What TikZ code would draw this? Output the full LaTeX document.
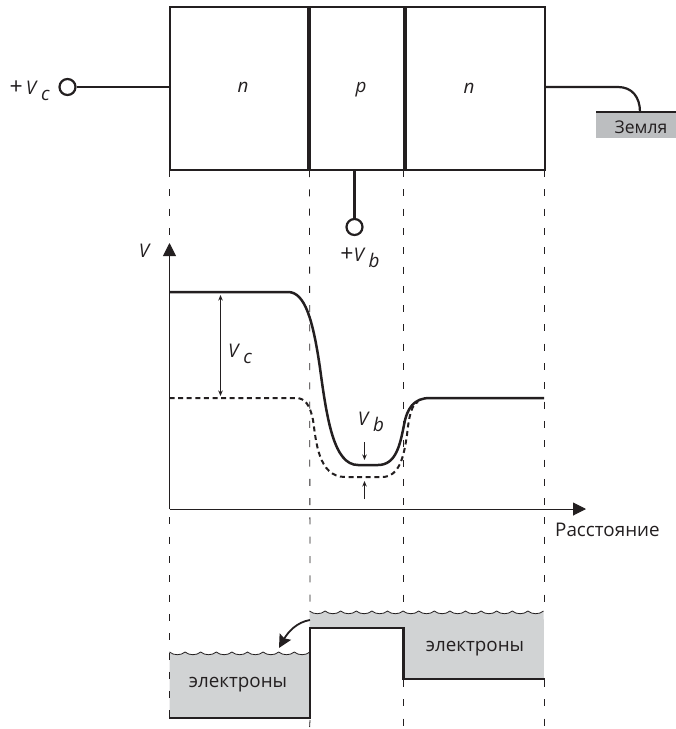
\documentclass[tikz,border=0pt]{standalone}
\usepackage{fontspec}
\setmainfont{Open Sans}
\usetikzlibrary{arrows.meta}
\definecolor{ink}{HTML}{231F20}
\definecolor{fillgrey}{HTML}{D1D3D4}
\definecolor{groundgrey}{HTML}{BCBEC0}
\newcommand{\Vsub}[1]{\textit{V}\,\raisebox{-6pt}{\textit{#1}}}
\newcommand{\Plus}{{\fontsize{23}{23}\selectfont +}}
\tikzset{
  lbl/.style={inner sep=0pt,text=ink,font=\fontsize{18.8}{22}\selectfont},
  wire/.style={draw=ink,line width=2.2pt},
  divider/.style={draw=ink,line width=3.2pt},
  guide/.style={draw=ink,line width=0.8pt,dash pattern=on 7pt off 12.3pt},
  terminal/.style={circle,draw=ink,line width=2.2pt,fill=white,minimum size=16pt,inner sep=0pt},
  regionbox/.style={draw=ink,line width=2.2pt,minimum height=163pt,inner sep=0pt,anchor=north west},
  axisline/.style={draw=ink,line width=1pt,-{Triangle[length=13pt,width=13pt]}},
  thinarrow/.style={draw=ink,line width=0.8pt,-{Stealth[length=5.5pt,width=4.5pt]}},
  bothfine/.style={draw=ink,line width=0.8pt,{Stealth[length=5.5pt,width=4.5pt]}-{Stealth[length=5.5pt,width=4.5pt]}},
  curvesolid/.style={draw=ink,line width=2.5pt},
  curvedash/.style={draw=ink,line width=2pt,dash pattern=on 5pt off 3.6pt},
  level/.style={draw=ink,line width=2.4pt},
  wave/.style={draw=ink,line width=0.8pt}
}
\begin{document}
\begin{tikzpicture}[x=1pt,y=-1pt]
\useasboundingbox (0,0) rectangle (676,729);

% grey electron seas (right one under the guides)
\fill[fillgrey] (309.5,611)
  foreach \i [evaluate=\i as \a using 309.5+15.6*\i, evaluate=\i as \b using 309.5+15.6*(\i+1)] in {0,...,14}
    { .. controls (\a+4,614.6) and (\b-4,614.6) .. (\b,611) }
  -- (544,628) -- (309.5,628) -- cycle;
\fill[fillgrey] (403.5,628) rectangle (544,679);
\fill[fillgrey] (169.5,652)
  foreach \i [evaluate=\i as \a using 169.5+15.6*\i, evaluate=\i as \b using 169.5+15.6*(\i+1)] in {0,...,8}
    { .. controls (\a+4,655.6) and (\b-4,655.6) .. (\b,652) }
  -- (310,718) -- (169.5,718) -- cycle;

% vertical guides
\coordinate (g1t) at (169.5,170); \coordinate (g1b) at (169.5,729);
\coordinate (g2t) at (309.5,170); \coordinate (g2b) at (309.5,729);
\coordinate (g3t) at (403.5,170); \coordinate (g3b) at (403.5,729);
\coordinate (g4t) at (544,170);   \coordinate (g4b) at (544,729);
\draw[guide] (g1t) -- (g1b);
\draw[guide] (g2t) -- (310,609) (310,720) -- (g2b);
\draw[guide] (g3t) -- (403.5,609) (403.5,680) -- (g3b);
\draw[guide] (g4t) -- (544,608) (544,680) -- (g4b);

% wavy surfaces
\draw[wave] (309.5,611)
  foreach \i [evaluate=\i as \a using 309.5+15.6*\i, evaluate=\i as \b using 309.5+15.6*(\i+1)] in {0,...,14}
    { .. controls (\a+4,614.6) and (\b-4,614.6) .. (\b,611) };
\draw[wave] (169.5,652)
  foreach \i [evaluate=\i as \a using 169.5+15.6*\i, evaluate=\i as \b using 169.5+15.6*(\i+1)] in {0,...,8}
    { .. controls (\a+4,655.6) and (\b-4,655.6) .. (\b,652) };

% transistor
\node[regionbox,minimum width=140pt] (nl) at (169,6) {};
\node[regionbox,minimum width=94pt] (pm) at (309,6) {};
\node[regionbox,minimum width=141pt] (nr) at (403,6) {};
\draw[divider] (pm.north west) -- (pm.south west);
\draw[divider] (pm.north east) -- (pm.south east);
\node[lbl] (tn1) at (243,87) {\textit{n}};
\node[lbl] (tp) at (361,90) {\textit{p}};
\node[lbl] (tn2) at (469,88) {\textit{n}};

% terminals
\node[terminal] (vc) at (67.5,87) {};
\draw[wire] (vc.east) -- (vc.east -| nl.west);
\node[lbl,anchor=east] (vclbl) at (50,91) {\Plus\,\Vsub{c}};
\node[terminal] (vb) at (354.5,227) {};
\coordinate (vbtop) at (354.5,169);
\draw[wire] (vbtop) -- (vb.north);
\node[lbl] (vblbl) at (360,258) {\Plus\Vsub{b}};

% ground
\node[fill=groundgrey,minimum width=80pt,minimum height=26pt,inner sep=0pt,anchor=north west] (gnd) at (596,112) {};
\node[lbl,font=\fontsize{17.5}{20}\selectfont] (gndlbl) at (641,127.5) {Земля};
\draw[draw=ink,line width=1.8pt] (gnd.north west) -- (gnd.north east);
\coordinate (gndc) at (640,112);
\draw[wire] (nr.east |- 0,87) -- (618,87) .. controls (632,87) and (640,97) .. (gndc);

% axes
\coordinate (orig) at (169.5,509);
\coordinate (ytip) at (169.5,243);
\coordinate (xtip) at (586,509);
\draw[axisline] (orig) -- (ytip);
\draw[axisline] (orig) -- (xtip);
\node[lbl] (vaxis) at (145,251) {\textit{V}};
\node[lbl,anchor=west] (dist) at (555,530) {Расстояние};

% potential curves
\draw[curvedash] (169.5,398) -- (296,398)
  .. controls (305,398) and (310,405) .. (313,420)
  .. controls (316,440) and (318,477) .. (345,477)
  -- (382,477)
  .. controls (400,477) and (404,455) .. (407,435)
  .. controls (409,415) and (412,404) .. (418,402);
\draw[curvesolid] (169.5,292) -- (288,292)
  .. controls (305,292) and (313,320) .. (320,368)
  .. controls (327,420) and (334,465) .. (358,465)
  -- (378,465)
  .. controls (396,465) and (400,445) .. (404,425)
  .. controls (407,408) and (414,398) .. (430,398)
  -- (544,398);

% Vc and Vb markers
\coordinate (vct) at (220.5,295); \coordinate (vcb) at (220.5,396);
\draw[bothfine] (vct) -- (vcb);
\node[lbl] (vclab) at (240,354) {\Vsub{c}};
\node[lbl] (vbdim) at (371,422) {\Vsub{b}};
\coordinate (vb1) at (364.5,442); \coordinate (vb2) at (364.5,460);
\coordinate (vb3) at (364.5,499); \coordinate (vb4) at (364.5,481);
\draw[thinarrow] (vb1) -- (vb2);
\draw[thinarrow] (vb3) -- (vb4);

% energy levels
\draw[level] (169,718) -- (310,718) -- (310,628) -- (403.5,628) -- (403.5,679) -- (545,679);
\coordinate (hopA) at (310,620); \coordinate (hopB) at (279,648);
\draw[draw=ink,line width=1.8pt,-{Stealth[length=13pt,width=13pt,inset=2pt]}] (hopA) .. controls (297,622) and (288,632) .. (hopB);
\node[lbl] (el1) at (238,685) {электроны};
\node[lbl] (el2) at (475,649) {электроны};
\end{tikzpicture}
\end{document}
